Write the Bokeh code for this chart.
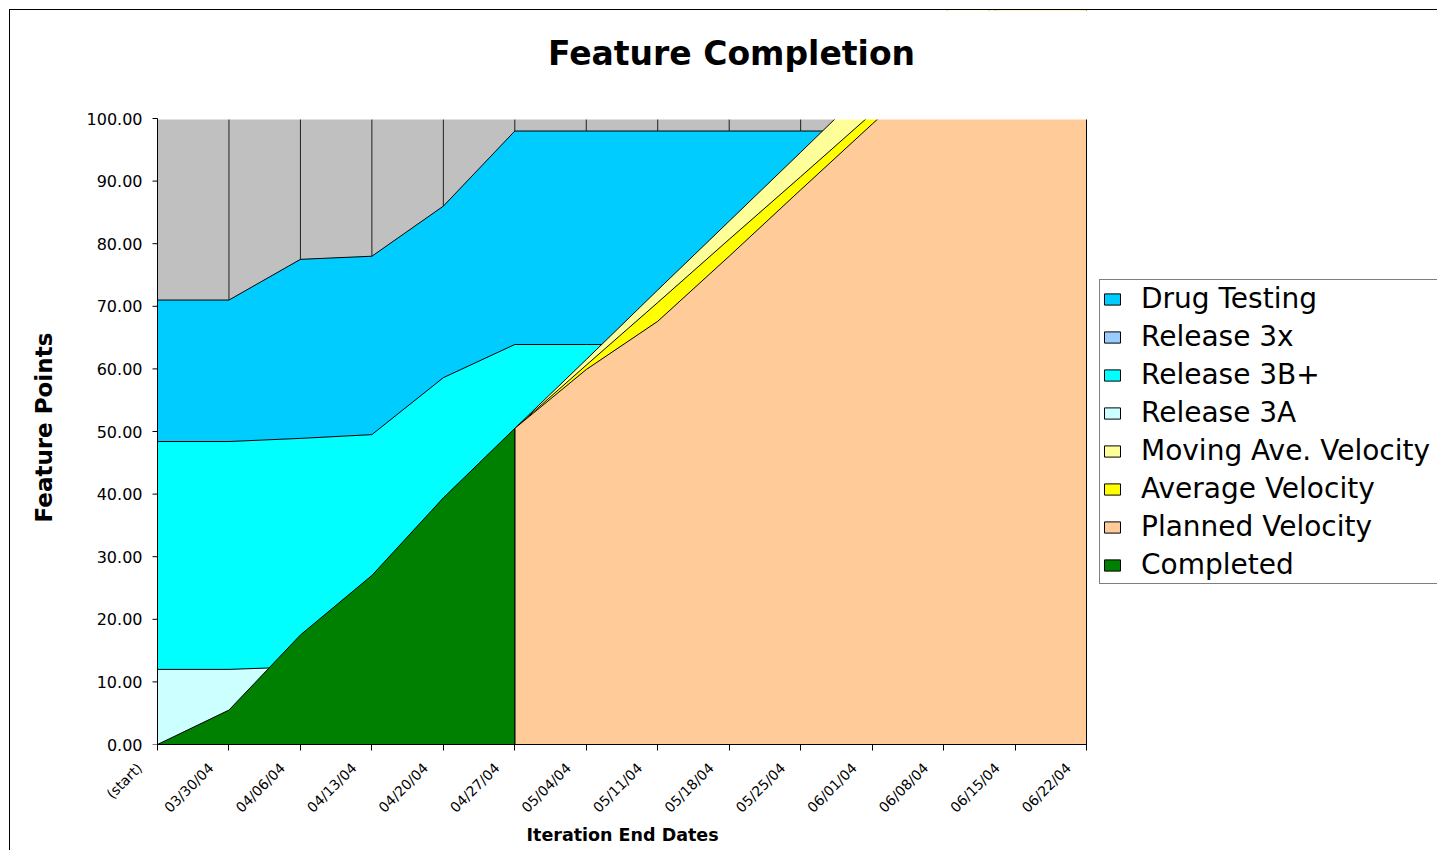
import math
from bokeh.plotting import figure
from bokeh.models import (Range1d, FixedTicker, PrintfTickFormatter, Legend,
                          LegendItem, LinearAxis, Label, Title)
from bokeh.embed import file_html
from bokeh.resources import INLINE

N = None
dates = ["(start)", "03/30/04", "04/06/04", "04/13/04", "04/20/04", "04/27/04",
         "05/04/04", "05/11/04", "05/18/04", "05/25/04", "06/01/04", "06/08/04",
         "06/15/04", "06/22/04"]
y_ticks = [0, 10, 20, 30, 40, 50, 60, 70, 80, 90, 100]

drug_testing = [71.0, 71.0, 77.5, 78.0, 86.0, 98.0, 98.0, 98.0, 98.0, 98.0, 98.0, N, N, N]
release_3x = [0.0, 0.0, 0.0, 0.0, 0.0, 0.0, 0.0, 0.0, 0.0, 0.0, 0.0, 0.0, 0.0, 0.0]
release_3b = [48.4, 48.4, 48.9, 49.5, 58.6, 63.9, 63.9, 63.9, N, N, N, N, N, N]
release_3a = [12.0, 12.0, 12.4, N, N, N, N, N, N, N, N, N, N, N]
moving_ave = [N, N, N, N, N, 50.5, 61.5, 72.6, 83.6, 94.6, 105.7, 116.7, 127.8, 138.8]
average_vel = [N, N, N, N, N, 50.5, 60.6, 70.6, 80.7, 90.7, 100.8, 110.8, 120.9, 130.9]
planned_vel = [N, N, N, N, N, 50.5, 59.9, 67.6, 78.0, 88.6, 99.1, 109.6, 120.2, 130.7]
completed = [0.0, 5.5, 17.5, 27.0, 39.4, 50.5, N, N, N, N, N, N, N, N]

series = [
    ("Drug Testing", drug_testing, "#00CCFF"),
    ("Release 3x", release_3x, "#99CCFF"),
    ("Release 3B+", release_3b, "#00FFFF"),
    ("Release 3A", release_3a, "#CCFFFF"),
    ("Moving Ave. Velocity", moving_ave, "#FFFF99"),
    ("Average Velocity", average_vel, "#FFFF00"),
    ("Planned Velocity", planned_vel, "#FFCC99"),
    ("Completed", completed, "#008000"),
]

FONT = "DejaVu Sans"
ticks = list(range(len(dates)))
X0, X1 = ticks[0], ticks[-1]
Y0, Y1 = y_ticks[0], y_ticks[-1]

# layout (canvas pixels)
CW, CH = 1437, 850
LEFT, TOP, BOTTOM = 138, 10, 106
AXIS_PX = 157                     # where the value axis sits
PXU = 929.0 / (X1 - X0)           # px per category step
PYU = 626.0 / (Y1 - Y0)           # px per feature point
LAB_SHIFT = 0.25                  # category names sit a bit left of their ticks
x_start = X0 - (AXIS_PX - LEFT) / PXU
x_end = x_start + (CW - LEFT) / PXU
y_end = Y0 + (CH - BOTTOM - TOP) / PYU

p = figure(width=CW, height=CH, output_backend="svg", toolbar_location=None,
           x_range=Range1d(x_start, x_end), y_range=Range1d(Y0, y_end),
           min_border_left=LEFT, min_border_right=0, min_border_top=TOP,
           min_border_bottom=BOTTOM)
p.title.visible = False
# chart-area frame line (left and top), as in the original
p.styles = {"background": "linear-gradient(#000, #000) 9px 9px / 1px 100% no-repeat, "
                          "linear-gradient(#000, #000) 9px 9px / 100% 1px no-repeat, #ffffff"}
p.background_fill_color = None
p.border_fill_color = None
p.outline_line_color = None
p.xgrid.grid_line_color = None
p.ygrid.grid_line_color = None

# plot area (grey) and category grid lines
p.quad(left=X0, right=X1, bottom=Y0, top=Y1, fill_color="#C0C0C0", line_color=None)
p.segment(x0=ticks, y0=[Y0] * len(ticks), x1=ticks, y1=[Y1] * len(ticks),
          line_color="#202020", line_width=1)

items = []
for name, vals, color in series:
    pts = [(i, v) for i, v in enumerate(vals) if v is not None]
    xs = [pts[0][0]] + [q[0] for q in pts] + [pts[-1][0]]
    ys = [0.0] + [q[1] for q in pts] + [0.0]
    r = p.patch(xs, ys, fill_color=color, line_color="black", line_width=1)
    items.append(LegendItem(label=name, renderers=[r]))

# values above the axis maximum are cut off, as in the original
p.quad(left=X0, right=x_end, bottom=Y1, top=y_end + 20 / PYU,
       fill_color="white", line_color="white", line_width=2)

# value axis line and its ticks
p.segment(x0=[X0], y0=[Y0], x1=[X0], y1=[Y1], line_color="black", line_width=1)
p.segment(x0=[X0 - 5 / PXU] * len(y_ticks), y0=y_ticks, x1=[X0] * len(y_ticks),
          y1=y_ticks, line_color="black", line_width=1)

# main x axis: ticks only
mx = p.xaxis[0]
mx.ticker = FixedTicker(ticks=ticks)
mx.bounds = (X0, X1)
mx.major_label_overrides = {i: "" for i in ticks}
mx.major_label_standoff = 0
mx.major_tick_in = 0
mx.major_tick_out = 6
mx.minor_tick_line_color = None
mx.axis_line_color = "black"
mx.major_tick_line_color = "black"

# category names
p.extra_x_ranges = {"lab": Range1d(x_start + LAB_SHIFT, x_end + LAB_SHIFT)}
lab = LinearAxis(x_range_name="lab", ticker=FixedTicker(ticks=ticks), bounds=(X0, X1))
lab.major_label_overrides = {i: d for i, d in enumerate(dates)}
lab.major_label_orientation = math.pi / 4
lab.major_label_text_font = FONT
lab.major_label_text_font_size = "14px"
lab.major_label_text_color = "black"
lab.major_label_standoff = 15
lab.major_tick_in = 0
lab.major_tick_out = 0
lab.major_tick_line_color = None
lab.minor_tick_line_color = None
lab.axis_line_color = None
p.add_layout(lab, "below")

xtitle = Title(text="Iteration End Dates", align="left", offset=388, standoff=0,
               vertical_align="top",
               text_font=FONT, text_font_style="bold", text_font_size="17.5px",
               text_color="black")
p.add_layout(xtitle, "below")

# value labels
yax = p.yaxis[0]
yax.ticker = FixedTicker(ticks=y_ticks)
yax.bounds = (Y0, Y1)
yax.formatter = PrintfTickFormatter(format="%.2f")
yax.major_label_text_font = FONT
yax.major_label_text_font_size = "16px"
yax.major_label_text_color = "black"
yax.major_label_standoff = -(AXIS_PX - LEFT) + 15
yax.major_tick_in = 0
yax.major_tick_out = 0
yax.major_tick_line_color = None
yax.minor_tick_line_color = None
yax.axis_line_color = None

ytitle = Title(text="Feature Points", align="left", offset=222, standoff=50,
               vertical_align="top",
               text_font=FONT, text_font_style="bold", text_font_size="23px",
               text_color="black")
p.add_layout(ytitle, "left")

legend = Legend(items=items, location=(1099 - LEFT, 160))
legend.label_text_font = FONT
legend.label_text_font_size = "28px"
legend.label_text_color = "black"
legend.glyph_width = 20
legend.glyph_height = 14
legend.label_standoff = 19
legend.label_height = 32
legend.label_width = 300
legend.spacing = 5
legend.padding = 2
legend.margin = 0
legend.border_line_color = "black"
legend.border_line_width = 1
legend.background_fill_color = "white"
legend.background_fill_alpha = 1
p.add_layout(legend)

title = Label(x=X0 + 574 / PXU, y=Y1 + 65 / PYU, text="Feature Completion", text_font=FONT,
              text_font_style="bold", text_font_size="33px", text_align="center",
              text_baseline="middle", text_color="black")
p.add_layout(title)

open("out.html", "w").write(file_html(p, INLINE))
